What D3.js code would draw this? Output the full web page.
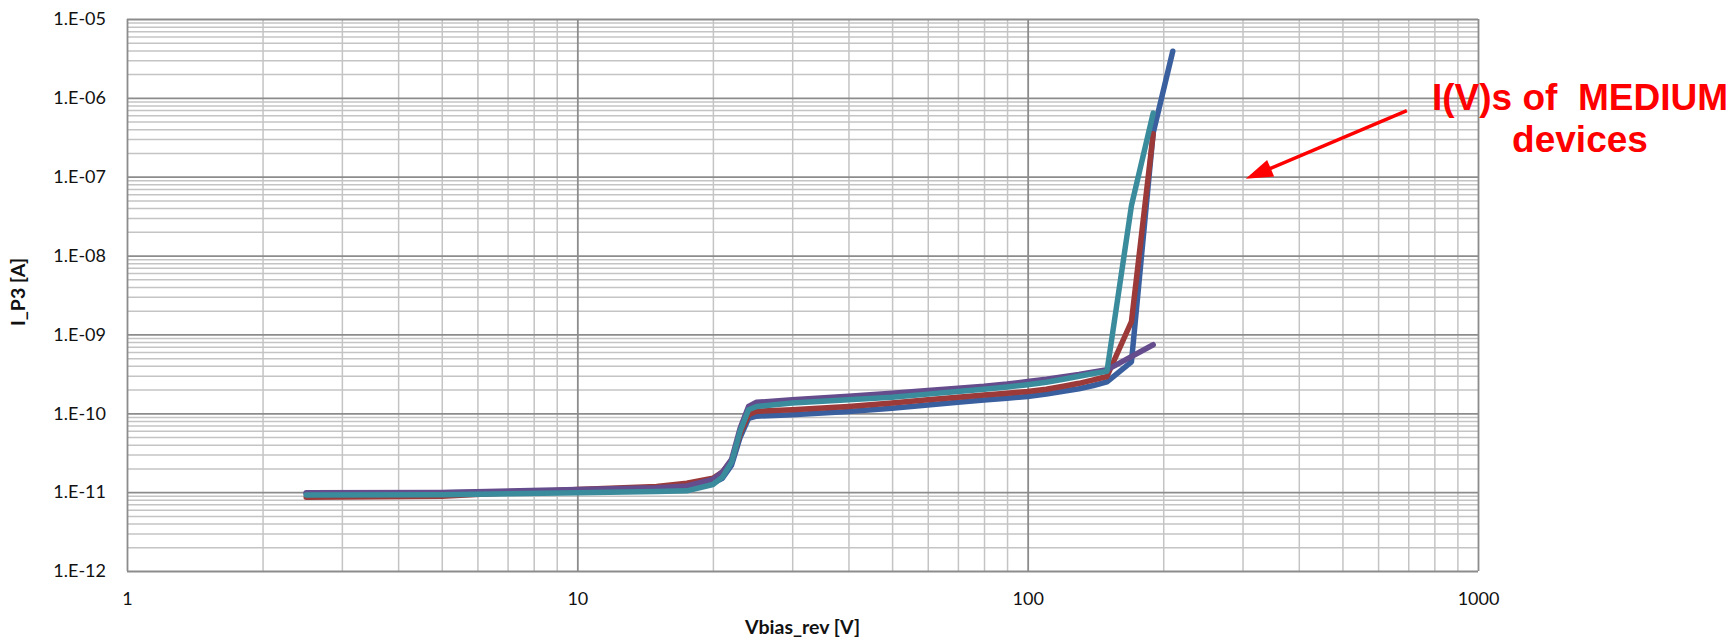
<!DOCTYPE html>
<html>
<head>
<meta charset="utf-8">
<script src="https://cdn.jsdelivr.net/npm/d3@7"></script>
<style>
body { margin: 0; background: #fff; }
</style>
</head>
<body>
<div class="svg"></div>
<script>

// sweep voltages (V) shared by all devices
var voltage = [2.5, 5, 10, 15, 17.5, 20, 21, 22, 23, 24, 25, 30, 40, 50, 60, 70, 80, 90, 100, 110, 120, 130, 140, 150, 170, 190, 210];

// currents (A), null = no point
var iBlue   = [9.6e-12, 9.8e-12, 1.03e-11, 1.08e-11, 1.12e-11, 1.3e-11, 1.5e-11, 2.2e-11, 5e-11, 8.6e-11, 9.2e-11, 9.6e-11, 1.05e-10, 1.16e-10, 1.27e-10, 1.38e-10, 1.47e-10, 1.55e-10, 1.63e-10, 1.75e-10, 1.9e-10, 2.05e-10, 2.25e-10, 2.5e-10, 4.5e-10, 3.6e-7, 3.9e-6];
var iRed    = [8.6e-12, 8.9e-12, 1.08e-11, 1.18e-11, 1.3e-11, 1.5e-11, 1.8e-11, 2.5e-11, 5.5e-11, 9.6e-11, 1.06e-10, 1.11e-10, 1.22e-10, 1.35e-10, 1.48e-10, 1.6e-10, 1.7e-10, 1.8e-10, 1.89e-10, 2.02e-10, 2.2e-10, 2.4e-10, 2.65e-10, 2.93e-10, 1.45e-9, 3.5e-7, null];
var iPurple = [9.8e-12, 9.9e-12, 1.08e-11, 1.14e-11, 1.2e-11, 1.45e-11, 1.8e-11, 2.6e-11, 6.5e-11, 1.22e-10, 1.38e-10, 1.48e-10, 1.65e-10, 1.8e-10, 1.95e-10, 2.08e-10, 2.2e-10, 2.35e-10, 2.53e-10, 2.7e-10, 2.9e-10, 3.1e-10, 3.35e-10, 3.56e-10, null, 7.4e-10, null];
var iTeal   = [9.2e-12, 9.3e-12, 9.8e-12, 1.02e-11, 1.04e-11, 1.25e-11, 1.55e-11, 2.4e-11, 6e-11, 1.11e-10, 1.22e-10, 1.35e-10, 1.48e-10, 1.6e-10, 1.75e-10, 1.89e-10, 2.02e-10, 2.15e-10, 2.3e-10, 2.47e-10, 2.7e-10, 2.95e-10, 3.2e-10, 3.4e-10, 4.3e-8, 6.4e-7, null];

var seriesColors = ["#3a5f9e", "#9b3a38", "#654c8c", "#3a8c9c"];

var xTicks = [1, 10, 100, 1000];
var xTickLabels = ["1", "10", "100", "1000"];
var yTicks = [1e-12, 1e-11, 1e-10, 1e-9, 1e-8, 1e-7, 1e-6, 1e-5];
var yTickLabels = ["1.E-12", "1.E-11", "1.E-10", "1.E-09", "1.E-08", "1.E-07", "1.E-06", "1.E-05"];

// annotation arrow, in data units (tail, head)
var arrowV = [695, 305];
var arrowI = [6.9e-7, 9.4e-8];

var width = 1733, height = 642;
var margin = {top: 19, right: 255, bottom: 71, left: 127};

var svg = d3.select("div.svg")
	.append("svg")
	.attr("width", width)
	.attr("height", height)
	.style("font-family", "Lato, 'Open Sans', sans-serif");

var x = d3.scaleLog()
	.domain([1, 1000])
	.range([margin.left, width - margin.right]);

var y = d3.scaleLog()
	.domain([1e-12, 1e-5])
	.range([height - margin.bottom, margin.top]);

var plotH = height - margin.bottom - margin.top;
var plotW = width - margin.right - margin.left;

// minor values 2..9 inside each decade
var minorX = [];
xTicks.slice(0, -1).forEach(function(d){
	for (var k = 2; k < 10; k++) minorX.push(d * k);
});
var minorY = [];
yTicks.slice(0, -1).forEach(function(d){
	for (var k = 2; k < 10; k++) minorY.push(d * k);
});

function grid(g, color, w){
	g.select(".domain").remove();
	g.selectAll("line").attr("stroke", color).attr("stroke-width", w);
}

// minor grid
svg.append("g")
	.attr("transform", `translate(0,${height - margin.bottom})`)
	.call(d3.axisBottom(x).tickValues(minorX).tickSize(-plotH).tickFormat(""))
	.call(grid, "#c4c4c4", 1.5);
svg.append("g")
	.attr("transform", `translate(${margin.left},0)`)
	.call(d3.axisLeft(y).tickValues(minorY).tickSize(-plotW).tickFormat(""))
	.call(grid, "#c4c4c4", 1.5);

// major grid
svg.append("g")
	.attr("transform", `translate(0,${height - margin.bottom})`)
	.call(d3.axisBottom(x).tickValues(xTicks).tickSize(-plotH).tickFormat(""))
	.call(grid, "#8c8c8c", 1.8);
svg.append("g")
	.attr("transform", `translate(${margin.left},0)`)
	.call(d3.axisLeft(y).tickValues(yTicks).tickSize(-plotW).tickFormat(""))
	.call(grid, "#8c8c8c", 1.8);

// tick labels
var xAxis = svg.append("g")
	.attr("transform", `translate(0,${height - margin.bottom})`)
	.call(d3.axisBottom(x).tickValues(xTicks).tickSize(0).tickPadding(21)
		.tickFormat(function(d, i){ return xTickLabels[i]; }));
xAxis.select(".domain").remove();
xAxis.selectAll("text").attr("font-size", 18).attr("fill", "#111").style("font-family", "Lato, sans-serif");

var yAxis = svg.append("g")
	.attr("transform", `translate(${margin.left},0)`)
	.call(d3.axisLeft(y).tickValues(yTicks).tickSize(0).tickPadding(21)
		.tickFormat(function(d, i){ return yTickLabels[i]; }));
yAxis.select(".domain").remove();
yAxis.selectAll("text").attr("font-size", 18).attr("fill", "#111").style("font-family", "Lato, sans-serif");

// axis titles
svg.append("text")
	.attr("x", (margin.left + width - margin.right) / 2)
	.attr("y", 634)
	.attr("text-anchor", "middle")
	.attr("font-size", 19.5)
	.attr("font-weight", "bold")
	.attr("fill", "#111")
	.text("Vbias_rev [V]");

svg.append("text")
	.attr("transform", `translate(25,${margin.top + plotH / 2 - 3}) rotate(-90)`)
	.attr("text-anchor", "middle")
	.attr("font-size", 19.5)
	.attr("font-weight", "bold")
	.attr("fill", "#111")
	.text("I_P3 [A]");

// curves
var series = [iBlue, iRed, iPurple, iTeal];

var line = d3.line()
	.x(d => x(d.v))
	.y(d => y(d.i));

series.forEach(function(cur, k){
	var pts = [];
	for (var j = 0; j < voltage.length; j++){
		if (cur[j] != null) pts.push({v: voltage[j], i: cur[j]});
	}
	svg.append("path")
		.datum(pts)
		.attr("fill", "none")
		.attr("stroke", seriesColors[k])
		.attr("stroke-width", 5.5)
		.attr("stroke-linejoin", "round")
		.attr("stroke-linecap", "round")
		.attr("d", line);
});

// annotation
var x0 = x(arrowV[0]), y0 = y(arrowI[0]);
var x1 = x(arrowV[1]), y1 = y(arrowI[1]);
var ang = Math.atan2(y1 - y0, x1 - x0);
var headL = 27, headW = 9;
var bx = x1 - headL * Math.cos(ang), by = y1 - headL * Math.sin(ang);

svg.append("line")
	.attr("x1", x0).attr("y1", y0)
	.attr("x2", bx + 4 * Math.cos(ang)).attr("y2", by + 4 * Math.sin(ang))
	.attr("stroke", "#ff0000")
	.attr("stroke-width", 3.5);

svg.append("polygon")
	.attr("points", [
		[x1, y1],
		[bx + headW * Math.sin(ang), by - headW * Math.cos(ang)],
		[bx - headW * Math.sin(ang), by + headW * Math.cos(ang)]
	].map(p => p.join(",")).join(" "))
	.attr("fill", "#ff0000");

var note = svg.append("text")
	.attr("text-anchor", "middle")
	.attr("font-family", "'Liberation Sans', Arial, sans-serif")
	.attr("font-weight", "bold")
	.attr("font-size", 37)
	.attr("fill", "#ff0000")
	.style("white-space", "pre");
note.append("tspan").attr("x", 1580).attr("y", 110).text("I(V)s of  MEDIUM");
note.append("tspan").attr("x", 1580).attr("y", 152).text("devices");

</script>
</body>
</html>
